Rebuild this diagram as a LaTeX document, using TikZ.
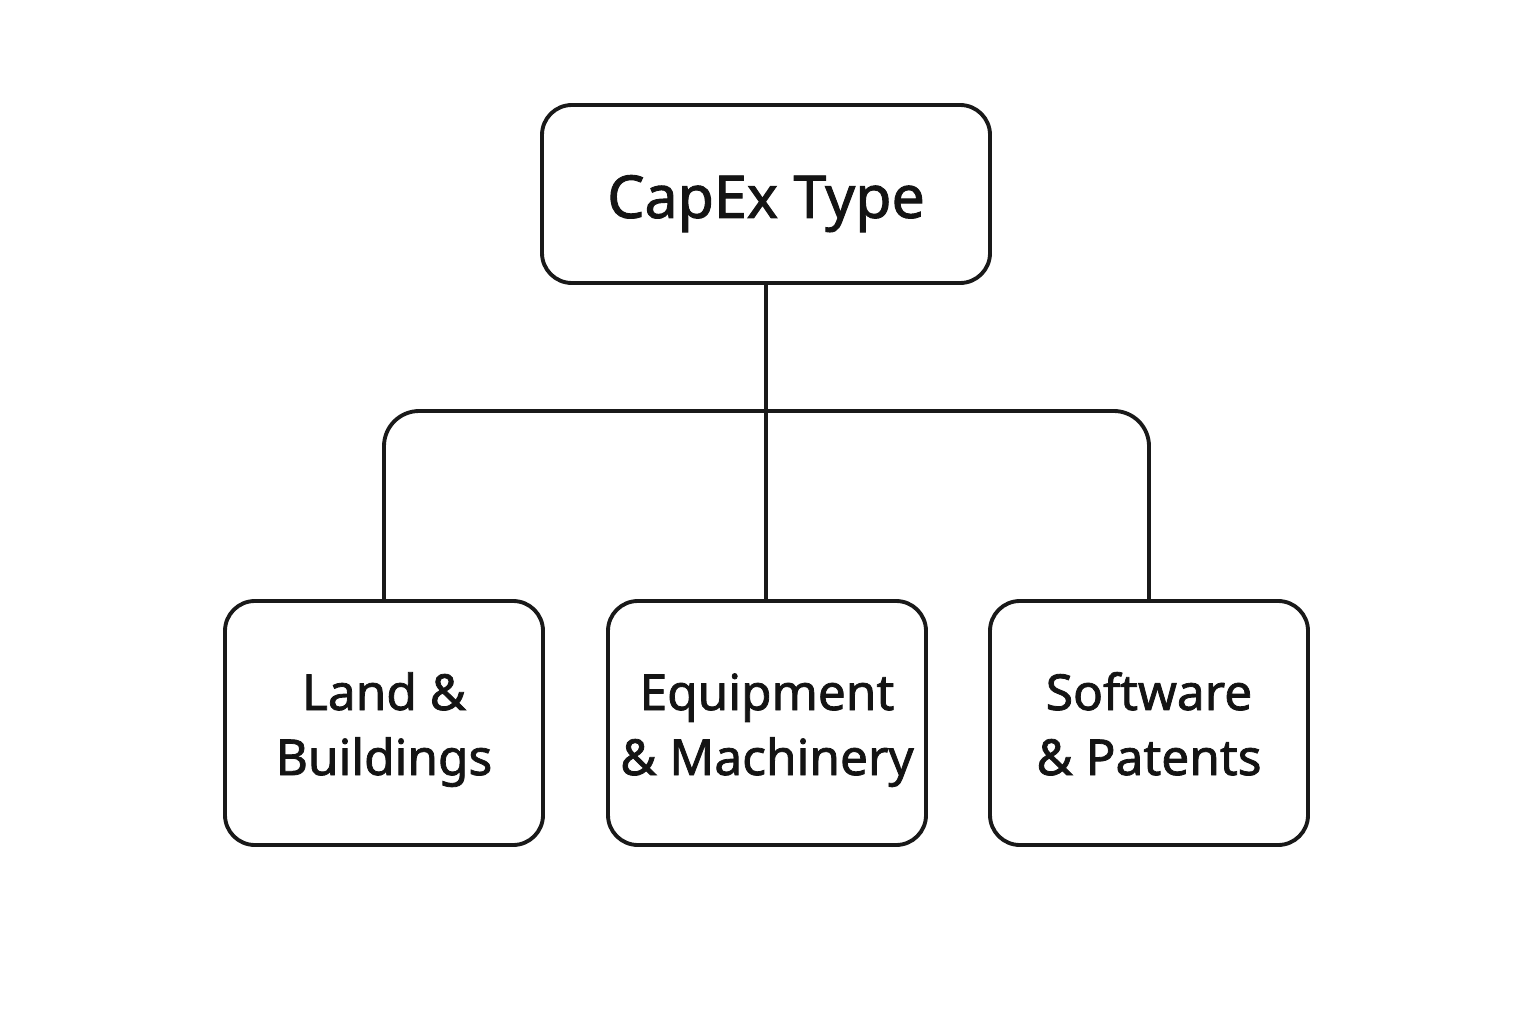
\documentclass[tikz,border=0pt]{standalone}
\usepackage{fontspec}
\setmainfont{Noto Sans}[BoldFont={Noto Sans},BoldFeatures={FakeBold=1.6}]
\usepackage{tikz}
\usetikzlibrary{positioning,calc}

\begin{document}
\begin{tikzpicture}[
      typebox/.style={draw=black!90,line width=1.1pt,rounded corners=8.5pt,align=center,text=black!92,inner sep=0pt},
      topbox/.style={typebox,minimum width=4.48cm,minimum height=1.78cm,text height=14pt,text depth=0.4pt,font=\bfseries\fontsize{16.8}{20}\selectfont},
      leafbox/.style={typebox,minimum width=3.18cm,minimum height=2.44cm,text height=30pt,text depth=0.4pt,font=\bfseries\fontsize{14.1}{18.5}\selectfont},
      link/.style={draw=black!90,line width=1.1pt,rounded corners=10pt}
    ]

    % Canvas
    \useasboundingbox (0,0) rectangle (15.36,10.24);

    % Root
    \node[topbox] (capex) at (7.66,8.30) {CapEx Type};

    % Leaves
    \node[leafbox] (land)  at (3.84,3.01) {Land \&\\Buildings};
    \node[leafbox] (equip) at (7.67,3.01) {Equipment\\\& Machinery};
    \node[leafbox] (soft)  at (11.49,3.01) {Software\\\& Patents};

    % Branches
    \coordinate (split) at (7.66,6.13);
    \draw[link] (capex.south) -- (capex.south |- equip.north);
    \draw[link] (land.north) |- (split) -| (soft.north);

  \end{tikzpicture}
\end{document}
